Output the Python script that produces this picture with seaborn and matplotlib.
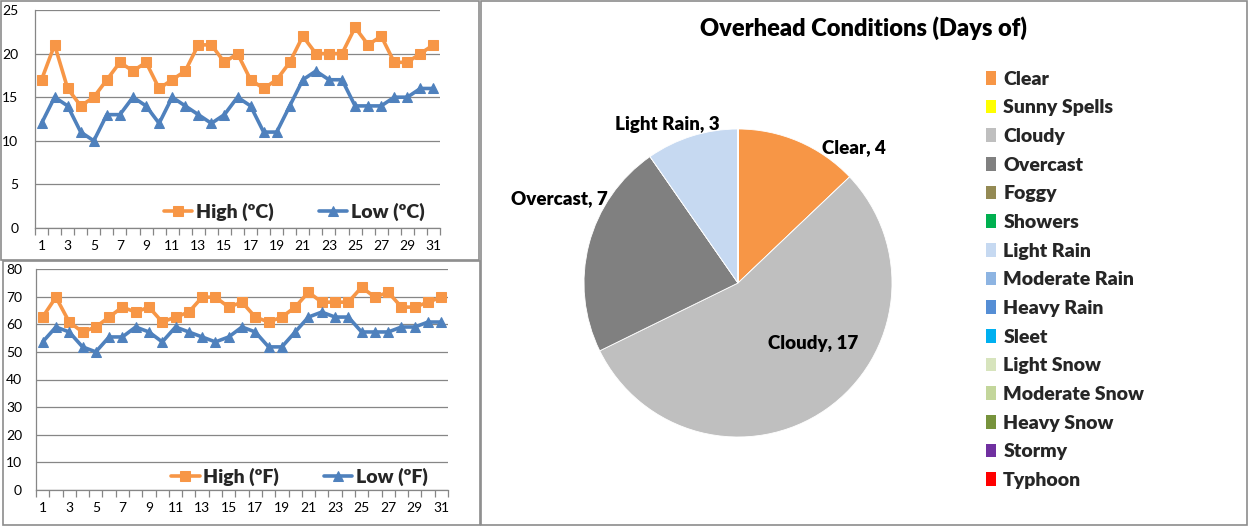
import numpy as np
import pandas as pd
import matplotlib
matplotlib.use("Agg")
import matplotlib.pyplot as plt
from matplotlib.patches import Rectangle, Patch
import seaborn as sns

# data
days = list(range(1, 32))
high_c = [17, 21, 16, 14, 15, 17, 19, 18, 19, 16, 17, 18, 21, 21, 19, 20,
          17, 16, 17, 19, 22, 20, 20, 20, 23, 21, 22, 19, 19, 20, 21]
low_c = [12, 15, 14, 11, 10, 13, 13, 15, 14, 12, 15, 14, 13, 12, 13, 15,
         14, 11, 11, 14, 17, 18, 17, 17, 14, 14, 14, 15, 15, 16, 16]
high_f = [62.6, 69.8, 60.8, 57.2, 59.0, 62.6, 66.2, 64.4, 66.2, 60.8, 62.6,
          64.4, 69.8, 69.8, 66.2, 68.0, 62.6, 60.8, 62.6, 66.2, 71.6, 68.0,
          68.0, 68.0, 73.4, 69.8, 71.6, 66.2, 66.2, 68.0, 69.8]
low_f = [53.6, 59.0, 57.2, 51.8, 50.0, 55.4, 55.4, 59.0, 57.2, 53.6, 59.0,
         57.2, 55.4, 53.6, 55.4, 59.0, 57.2, 51.8, 51.8, 57.2, 62.6, 64.4,
         62.6, 62.6, 57.2, 57.2, 57.2, 59.0, 59.0, 60.8, 60.8]

conditions = ["Clear", "Sunny Spells", "Cloudy", "Overcast", "Foggy", "Showers",
              "Light Rain", "Moderate Rain", "Heavy Rain", "Sleet", "Light Snow",
              "Moderate Snow", "Heavy Snow", "Stormy", "Typhoon"]
condition_days = [4, 0, 17, 7, 0, 0, 3, 0, 0, 0, 0, 0, 0, 0, 0]
condition_colors = ["#F79646", "#FFFF00", "#BFBFBF", "#808080", "#948A54", "#00B050",
                    "#C6D9F1", "#8DB4E2", "#558ED5", "#00B0F0", "#D7E4BD",
                    "#C3D69B", "#77933C", "#7030A0", "#FF0000"]

ORANGE = "#F79646"
BLUE = "#4F81BD"
GRID = "#868686"

sns.set_theme(style="white")
plt.rcParams['font.family'] = ['Lato', 'DejaVu Sans']

W, H = 1249, 527
fig = plt.figure(figsize=(W / 100, H / 100), dpi=100)


def px_axes(left, top, right, bottom):
    return fig.add_axes([left / W, 1 - bottom / H, (right - left) / W, (bottom - top) / H])


def px_rect(left, top, right, bottom):
    fig.patches.append(Rectangle((left / W, 1 - bottom / H), (right - left) / W,
                                 (bottom - top) / H, transform=fig.transFigure,
                                 fill=False, edgecolor="#8C8C8C", linewidth=1.2))


# panel borders
px_rect(1, 1, 479, 260)
px_rect(3, 261, 480, 525)
px_rect(481, 1, 1247, 525)


def temp_chart(ax, high, low, unit, ymax, ystep, ypad, leg_y):
    df = pd.DataFrame({"day": days, "high": high, "low": low})
    sns.lineplot(data=df, x="day", y="high", ax=ax, color=ORANGE, marker="s",
                 markersize=6.5, markeredgecolor=ORANGE, linewidth=2.6,
                 label=f"High (º{unit})")
    sns.lineplot(data=df, x="day", y="low", ax=ax, color=BLUE, marker="^",
                 markersize=7.5, markeredgecolor=BLUE, linewidth=2.6,
                 label=f"Low (º{unit})")
    ax.set_xlim(0.5, 31.5)
    ax.set_ylim(0, ymax)
    ax.set_yticks(np.arange(0, ymax + 1, ystep))
    ax.set_xticks(days[::2])
    ax.set_xticks(np.arange(0.5, 32, 1), minor=True)
    ax.tick_params(axis="x", which="major", length=0, pad=9, labelsize=10, colors="black")
    ax.tick_params(axis="x", which="minor", length=5, width=0.9, color=GRID, direction="out")
    ax.tick_params(axis="x", which="both", bottom=True)
    ax.tick_params(axis="y", length=0, pad=ypad, labelsize=10, colors="black")
    ax.set_xlabel("")
    ax.set_ylabel("")
    ax.grid(axis="y", color=GRID, linewidth=0.9)
    ax.set_axisbelow(True)
    for side in ["top", "right"]:
        ax.spines[side].set_visible(False)
    for side in ["left", "bottom"]:
        ax.spines[side].set_color(GRID)
        ax.spines[side].set_linewidth(0.9)
    leg = ax.legend(loc="center", bbox_to_anchor=(0.64, leg_y), ncol=2, frameon=False,
                    prop={"weight": "heavy", "size": 14}, handlelength=1.45,
                    handletextpad=0.2, columnspacing=2.3)
    return leg


ax1 = px_axes(35, 10, 440, 228)
temp_chart(ax1, high_c, low_c, "C", 25, 5, 12, 0.076)

ax2 = px_axes(36, 269, 448, 490)
temp_chart(ax2, high_f, low_f, "F", 80, 10, 10, 0.058)

# pie chart
ax3 = px_axes(738 - 154, 283 - 154, 738 + 154, 283 + 154)
ax3.pie(condition_days, colors=condition_colors, startangle=90, counterclock=False,
        radius=1, wedgeprops={"linewidth": 0.6, "edgecolor": "white"})
ax3.set_xlim(-1, 1)
ax3.set_ylim(-1, 1)
ax3.set_axis_off()

label_pos = {"Clear": (0.75, 0.88), "Light Rain": (-0.46, 1.03),
             "Overcast": (-1.16, 0.55), "Cloudy": (0.49, -0.39)}
for name, n in zip(conditions, condition_days):
    if n > 0:
        x, y = label_pos[name]
        ax3.text(x, y, f"{name}, {n}", ha="center", va="center", fontsize=13.5,
                 fontweight="heavy", color="black", clip_on=False)

fig.text(863 / W, 1 - 28 / H, "Overhead Conditions (Days of)", ha="center", va="center",
         fontsize=17, fontweight="heavy", color="black")

handles = [Patch(facecolor=c, edgecolor="none") for c in condition_colors]
fig.legend(handles, conditions, loc="upper left", bbox_to_anchor=(976 / W, 1 - 61 / H),
           frameon=False, prop={"weight": "heavy", "size": 14}, handlelength=0.55,
           handleheight=0.7, handletextpad=0.35, labelspacing=0.6, borderpad=0)

fig.savefig("out.png", dpi=100)
